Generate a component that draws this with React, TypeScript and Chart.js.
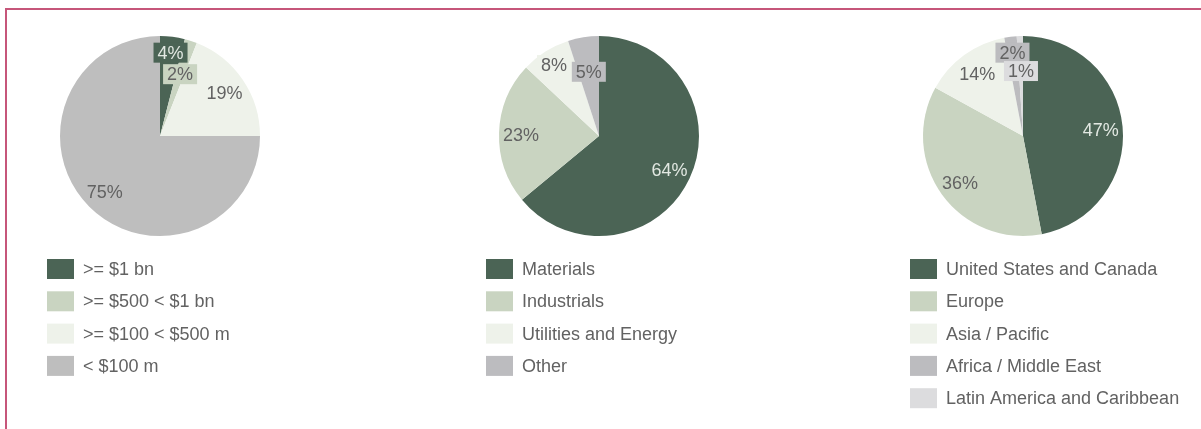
import React, { useEffect, useRef } from "react";
import { Chart, registerables } from "chart.js";

Chart.register(...registerables);

// ---- Data ----
const sizeCategories = [">= $1 bn", ">= $500 < $1 bn", ">= $100 < $500 m", "< $100 m"];
const sizeValues = [4, 2, 19, 75];

const sectorCategories = ["Materials", "Industrials", "Utilities and Energy", "Other"];
const sectorValues = [64, 23, 8, 5];

const regionCategories = [
  "United States and Canada",
  "Europe",
  "Asia / Pacific",
  "Africa / Middle East",
  "Latin America and Caribbean",
];
const regionValues = [47, 36, 14, 2, 1];

// ---- Styles ----
const DARK = "#4b6455";
const LIGHT = "#c9d4c1";
const PALE = "#eef2ea";
const GRAY = "#bebebe";
const GRAY2 = "#bcbcbf";
const PALEGRAY = "#dcdcde";

const sizeColors = [DARK, LIGHT, PALE, GRAY];
const sectorColors = [DARK, LIGHT, PALE, GRAY2];
const regionColors = [DARK, LIGHT, PALE, GRAY2, PALEGRAY];

const FONT_FAMILY = "'Liberation Sans', Arial, Helvetica, sans-serif";
const FONT = `18px ${FONT_FAMILY}`;
const TEXT = "#626262";
const TEXT_ON_DARK = "#e2e8e2";

const H = 429;
const RADIUS = 100;
const CY = 136;

function overlaps(a: any, b: any) {
  return a.x < b.x + b.w && b.x < a.x + a.w && a.y < b.y + b.h && b.y < a.y + a.h;
}

const pctLabelPlugin = {
  id: "pctLabels",
  afterDatasetsDraw(chart: any) {
    const ctx = chart.ctx;
    const meta = chart.getDatasetMeta(0);
    const ds = chart.data.datasets[0];
    ctx.save();
    ctx.font = FONT;
    ctx.textAlign = "center";
    ctx.textBaseline = "middle";
    let prev: any = null;
    meta.data.forEach((arc: any, i: number) => {
      const p = arc.getProps(["x", "y", "startAngle", "endAngle", "outerRadius"], true);
      const v = ds.data[i];
      const mid = (p.startAngle + p.endAngle) / 2;
      const text = `${v}%`;
      const w = ctx.measureText(text).width + 8;
      const h = 20;
      const place = (f: number) => {
        const lx = p.x + Math.cos(mid) * p.outerRadius * f;
        const ly = p.y + Math.sin(mid) * p.outerRadius * f;
        return { lx, ly, box: { x: lx - w / 2, y: ly - h / 2, w, h } };
      };
      const small = v < 10;
      let pos = place(small ? 0.84 : 0.78);
      if (prev && overlaps(pos.box, prev)) pos = place(0.65);
      const bg = ds.backgroundColor[i];
      if (small) {
        ctx.fillStyle = bg;
        ctx.fillRect(pos.box.x, pos.box.y, pos.box.w, pos.box.h);
      }
      ctx.fillStyle = bg === DARK ? TEXT_ON_DARK : TEXT;
      ctx.fillText(text, pos.lx, pos.ly + (small ? 1 : 2));
      prev = pos.box;
    });
    ctx.restore();
  },
};

const listLegendPlugin = {
  id: "listLegend",
  afterDraw(chart: any) {
    const ctx = chart.ctx;
    const area = chart.chartArea;
    const cx = (area.left + area.right) / 2;
    const ds = chart.data.datasets[0];
    const labels: string[] = chart.data.labels;
    ctx.save();
    ctx.font = FONT;
    ctx.textAlign = "left";
    ctx.textBaseline = "middle";
    labels.forEach((lab, i) => {
      const rowY = 269 + i * 32.3;
      const bx = cx - 113;
      ctx.fillStyle = ds.backgroundColor[i];
      ctx.fillRect(bx, rowY - 10, 27, 20);
      ctx.fillStyle = TEXT;
      ctx.fillText(lab, bx + 36, rowY + 1);
    });
    ctx.restore();
  },
};

function PieChart(props: {
  labels: string[];
  values: number[];
  colors: string[];
  left: number;
  width: number;
  cx: number;
}) {
  const ref = useRef<HTMLCanvasElement | null>(null);
  useEffect(() => {
    if (!ref.current) return;
    const { labels, values, colors, width, cx } = props;
    const chart = new Chart(ref.current, {
      type: "pie",
      data: {
        labels,
        datasets: [
          {
            data: values,
            backgroundColor: colors,
            borderWidth: 0,
          },
        ],
      },
      options: {
        responsive: false,
        animation: false,
        events: [],
        layout: {
          padding: {
            left: cx - RADIUS,
            right: width - (cx + RADIUS),
            top: CY - RADIUS,
            bottom: H - (CY + RADIUS),
          },
        },
        plugins: {
          legend: { display: false },
          tooltip: { enabled: false },
        },
      },
      plugins: [pctLabelPlugin, listLegendPlugin],
    } as any);
    return () => chart.destroy();
  }, []);
  return (
    <canvas
      ref={ref}
      width={props.width}
      height={H}
      style={{ position: "absolute", left: props.left, top: 0, width: props.width, height: H }}
    />
  );
}

export default function App() {
  return (
    <div
      style={{
        position: "fixed",
        left: 0,
        top: 0,
        width: 1201,
        height: H,
        background: "#ffffff",
        overflow: "hidden",
      }}
    >
      <div
        style={{
          position: "absolute",
          left: 5,
          top: 8,
          width: 1300,
          height: 500,
          borderLeft: "2px solid #c6567a",
          borderTop: "2px solid #c6567a",
        }}
      />
      <PieChart labels={sizeCategories} values={sizeValues} colors={sizeColors} left={0} width={400} cx={160} />
      <PieChart labels={sectorCategories} values={sectorValues} colors={sectorColors} left={400} width={400} cx={199} />
      <PieChart labels={regionCategories} values={regionValues} colors={regionColors} left={800} width={401} cx={223} />
    </div>
  );
}
